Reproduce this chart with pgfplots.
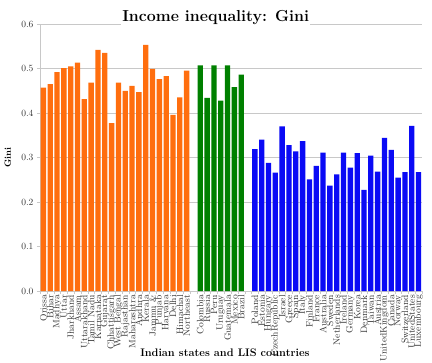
\documentclass[border=0pt]{standalone}
\usepackage{pgfplots}
\pgfplotsset{compat=1.18}
\usepackage{pgfplotstable}
\definecolor{cor}{RGB}{255,110,14}
\definecolor{cgr}{RGB}{0,128,0}
\definecolor{cbl}{RGB}{10,10,245}
\definecolor{gridc}{RGB}{200,200,200}
\pgfplotstableread{
x y
0 0.457
1 0.465
2 0.492
3 0.501
4 0.505
5 0.513
6 0.431
7 0.468
8 0.542
9 0.535
10 0.377
11 0.468
12 0.450
13 0.461
14 0.447
15 0.553
16 0.499
17 0.476
18 0.483
19 0.396
20 0.435
21 0.495
}\india
\pgfplotstableread{
x y
23 0.507
24 0.434
25 0.507
26 0.428
27 0.507
28 0.458
29 0.486
}\latam
\pgfplotstableread{
x y
31 0.319
32 0.340
33 0.288
34 0.266
35 0.370
36 0.328
37 0.314
38 0.337
39 0.251
40 0.281
41 0.311
42 0.237
43 0.262
44 0.311
45 0.277
46 0.310
47 0.227
48 0.304
49 0.268
50 0.344
51 0.317
52 0.255
53 0.267
54 0.371
55 0.267
}\lis
\begin{document}
\begin{tikzpicture}
\useasboundingbox (-40bp,-72bp) rectangle (392bp,267bp+24bp);
\begin{axis}[
  scale only axis, width=382bp, height=267bp,
  at={(0,0)}, anchor=south west,
  xmin=-0.5, xmax=55.5, ymin=0, ymax=0.6,
  axis x line*=bottom, axis y line*=left,
  axis line style={gridc},
  ymajorgrids, grid style={gridc, line width=0.6pt},
  ytick={0,0.1,0.2,0.3,0.4,0.5,0.6},
  /pgf/number format/fixed, /pgf/number format/fixed zerofill, /pgf/number format/precision=1,
  /pgf/number format/assume math mode=true,
  yticklabel style={font=\fontsize{9.5}{9.5}\selectfont, color=black!80},
  xtick={0,...,55}, major x tick style={draw=none},
  minor xtick={-0.5,0.5,...,55.5},
  minor x tick style={gridc}, minor tick length=3bp,
  major y tick style={gridc}, major tick length=3bp,
  tick align=outside,
  xticklabels={Orissa,Bihar,Madhya,Uttar,Jharkhand,Assam,Uttarakhand,Tamil Nadu,Karnataka,Gujarat,Chhattisgarh,West Bengal,Rajasthan,Maharashtra,Andhra,Kerala,Jammu \&,Punjab,Haryana,Delhi,Himachal,Northeast,,Colombia,Russia,Peru,Uruguay,Guatemala,Mexico,Brazil,,Poland,Estonia,Hungary,CzechRepublic,Israel,Greece,Spain,Italy,Finland,France,Australia,Sweden,Netherlands,Ireland,Germany,Korea,Denmark,Taiwan,Austria,UnitedKingdom,Canada,Norway,Switzerland,UnitedStates,Luxembourg},
  xticklabel style={rotate=90, anchor=east, font=\fontsize{9.3}{9.3}\selectfont, inner sep=1pt, color=black!80},
  title={\textbf{Income inequality: Gini}},
  title style={at={(axis description cs:0.46,1)}, anchor=base, yshift=-3bp, fill=white, inner sep=1pt, font=\fontsize{16}{16}\selectfont},
  ylabel={\textbf{Gini}},
  ylabel style={at={(axis description cs:-0.084,0.5)}, anchor=center, rotate=0, font=\fontsize{9}{9}\selectfont},
  xlabel={\textbf{Indian states and LIS countries}},
  xlabel style={at={(axis description cs:0.484,0)}, anchor=center, yshift=-62bp, font=\fontsize{11}{11}\selectfont},
  ybar, bar width=0.78, bar shift=0pt,
]
\addplot[fill=cor, draw=none] table[x=x,y=y] {\india};
\addplot[fill=cgr, draw=none] table[x=x,y=y] {\latam};
\addplot[fill=cbl, draw=none] table[x=x,y=y] {\lis};
\end{axis}
\end{tikzpicture}
\end{document}
